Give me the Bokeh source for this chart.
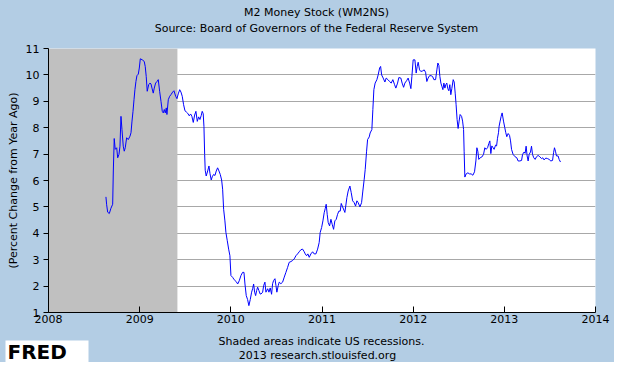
from bokeh.plotting import figure
from bokeh.layouts import column
from bokeh.models import ColumnDataSource, BoxAnnotation, FixedTicker, Label, Range1d
from bokeh.embed import file_html
from bokeh.resources import INLINE

# ---- texts ----
title_text = "M2 Money Stock (WM2NS)"
subtitle_text = "Source: Board of Governors of the Federal Reserve System"
y_label = "(Percent Change from Year Ago)"
footer1 = "Shaded areas indicate US recessions."
footer2 = "2013 research.stlouisfed.org"
logo_text = "FRED"

# ---- axes ----
year_ticks = [2008, 2009, 2010, 2011, 2012, 2013, 2014]
y_ticks = [1, 2, 3, 4, 5, 6, 7, 8, 9, 10, 11]

# ---- recession (Dec 2007 - Jun 2009) ----
recession_start = 2007.917
recession_end = 2009.414

# ---- series: weekly M2, percent change from year ago (decimal years) ----
years = [
    2008.630, 2008.638, 2008.649, 2008.667, 2008.685, 2008.704, 2008.711, 2008.721, 2008.732, 2008.748,
    2008.759, 2008.773, 2008.784, 2008.795, 2008.806, 2008.820, 2008.831, 2008.842, 2008.857, 2008.875,
    2008.894, 2008.905, 2008.916, 2008.927, 2008.938, 2008.948, 2008.959, 2008.970, 2008.985, 2008.996,
    2009.007, 2009.029, 2009.050, 2009.061, 2009.072, 2009.083, 2009.099, 2009.113, 2009.124, 2009.135,
    2009.149, 2009.160, 2009.175, 2009.190, 2009.204, 2009.219, 2009.234, 2009.248, 2009.259, 2009.270,
    2009.281, 2009.292, 2009.299, 2009.314, 2009.329, 2009.343, 2009.362, 2009.376, 2009.395, 2009.409,
    2009.423, 2009.439, 2009.453, 2009.467, 2009.482, 2009.497, 2009.511, 2009.526, 2009.544, 2009.559,
    2009.573, 2009.588, 2009.603, 2009.617, 2009.632, 2009.647, 2009.661, 2009.675, 2009.686, 2009.697,
    2009.705, 2009.713, 2009.719, 2009.730, 2009.746, 2009.760, 2009.771, 2009.785, 2009.796, 2009.811,
    2009.826, 2009.840, 2009.855, 2009.870, 2009.884, 2009.899, 2009.910, 2009.921, 2009.935, 2009.946,
    2009.961, 2009.976, 2009.990, 2010.001, 2010.020, 2010.037, 2010.059, 2010.075, 2010.092, 2010.111,
    2010.129, 2010.144, 2010.155, 2010.169, 2010.184, 2010.198, 2010.213, 2010.228, 2010.239, 2010.250,
    2010.261, 2010.272, 2010.283, 2010.294, 2010.308, 2010.322, 2010.331, 2010.349, 2010.360, 2010.374,
    2010.385, 2010.404, 2010.418, 2010.432, 2010.447, 2010.458, 2010.469, 2010.484, 2010.495, 2010.505,
    2010.520, 2010.531, 2010.549, 2010.568, 2010.586, 2010.604, 2010.623, 2010.640, 2010.659, 2010.678,
    2010.695, 2010.714, 2010.732, 2010.750, 2010.769, 2010.787, 2010.805, 2010.816, 2010.831, 2010.845,
    2010.860, 2010.878, 2010.897, 2010.914, 2010.933, 2010.952, 2010.969, 2010.980, 2010.996, 2011.010,
    2011.024, 2011.035, 2011.046, 2011.057, 2011.068, 2011.083, 2011.098, 2011.112, 2011.127, 2011.141,
    2011.156, 2011.171, 2011.185, 2011.200, 2011.211, 2011.226, 2011.251, 2011.273, 2011.287, 2011.306,
    2011.320, 2011.336, 2011.353, 2011.368, 2011.383, 2011.397, 2011.416, 2011.434, 2011.448, 2011.463,
    2011.474, 2011.489, 2011.500, 2011.518, 2011.528, 2011.547, 2011.558, 2011.569, 2011.583, 2011.602,
    2011.616, 2011.632, 2011.643, 2011.654, 2011.671, 2011.690, 2011.704, 2011.723, 2011.741, 2011.759,
    2011.777, 2011.796, 2011.810, 2011.829, 2011.843, 2011.865, 2011.879, 2011.895, 2011.909, 2011.928,
    2011.945, 2011.961, 2011.975, 2011.986, 2012.000, 2012.019, 2012.033, 2012.044, 2012.055, 2012.070,
    2012.084, 2012.103, 2012.121, 2012.136, 2012.150, 2012.164, 2012.180, 2012.197, 2012.213, 2012.227,
    2012.246, 2012.260, 2012.271, 2012.282, 2012.293, 2012.304, 2012.315, 2012.326, 2012.337, 2012.348,
    2012.358, 2012.369, 2012.380, 2012.391, 2012.402, 2012.413, 2012.424, 2012.439, 2012.450, 2012.461,
    2012.471, 2012.482, 2012.493, 2012.504, 2012.515, 2012.531, 2012.542, 2012.553, 2012.559, 2012.567,
    2012.581, 2012.600, 2012.618, 2012.636, 2012.655, 2012.673, 2012.688, 2012.699, 2012.709, 2012.720,
    2012.735, 2012.753, 2012.772, 2012.786, 2012.800, 2012.816, 2012.830, 2012.841, 2012.852, 2012.863,
    2012.877, 2012.888, 2012.904, 2012.915, 2012.925, 2012.936, 2012.943, 2012.954, 2012.965, 2012.976,
    2012.991, 2013.005, 2013.016, 2013.027, 2013.042, 2013.057, 2013.068, 2013.079, 2013.096, 2013.118,
    2013.137, 2013.151, 2013.170, 2013.189, 2013.200, 2013.217, 2013.228, 2013.239, 2013.250, 2013.261,
    2013.272, 2013.287, 2013.298, 2013.309, 2013.323, 2013.338, 2013.353, 2013.371, 2013.389, 2013.408,
    2013.422, 2013.436, 2013.455, 2013.474, 2013.491, 2013.510, 2013.529, 2013.540, 2013.550, 2013.561,
    2013.572, 2013.590, 2013.601, 2013.616,
]
m2_pct_change = [
    5.38, 5.08, 4.80, 4.75, 4.95, 5.10, 6.36, 7.59, 7.18, 7.24,
    6.86, 6.99, 7.30, 8.43, 7.93, 7.30, 7.11, 7.24, 7.62, 7.55,
    7.68, 7.81, 8.25, 8.62, 9.06, 9.44, 9.75, 9.97, 10.03, 10.26,
    10.61, 10.57, 10.51, 10.32, 9.94, 9.38, 9.63, 9.69, 9.66, 9.50,
    9.31, 9.50, 9.69, 9.75, 9.82, 9.38, 9.00, 8.62, 8.56, 8.69,
    8.56, 8.75, 8.50, 9.06, 9.19, 9.25, 9.35, 9.40, 9.19, 9.10,
    9.28, 9.44, 9.35, 9.19, 8.87, 8.64, 8.60, 8.55, 8.45, 8.52,
    8.43, 8.20, 8.48, 8.62, 8.24, 8.41, 8.31, 8.46, 8.62, 8.53,
    8.05, 6.98, 6.39, 6.17, 6.36, 6.55, 6.27, 6.02, 6.14, 6.23,
    6.19, 6.36, 6.48, 6.36, 6.23, 6.02, 5.67, 4.91, 4.47, 4.03,
    3.72, 3.40, 3.15, 2.40, 2.33, 2.24, 2.17, 2.08, 2.20, 2.40,
    2.52, 2.52, 2.08, 1.64, 1.49, 1.26, 1.49, 1.77, 1.90, 2.08,
    1.77, 1.64, 1.83, 1.96, 1.83, 1.70, 1.70, 1.77, 2.02, 2.15,
    1.77, 1.90, 1.77, 1.93, 1.69, 2.09, 2.21, 2.28, 2.02, 1.77,
    2.02, 2.15, 2.09, 2.15, 2.34, 2.52, 2.71, 2.90, 2.93, 2.97,
    3.03, 3.15, 3.22, 3.30, 3.38, 3.40, 3.30, 3.22, 3.15, 3.22,
    3.09, 3.22, 3.30, 3.22, 3.22, 3.40, 3.65, 4.03, 4.22, 4.47,
    4.78, 4.93, 5.10, 4.72, 4.41, 4.28, 4.53, 4.34, 4.15, 4.47,
    4.53, 4.72, 4.84, 4.84, 5.13, 5.00, 4.79, 5.35, 5.60, 5.79,
    5.55, 5.23, 5.16, 5.03, 5.23, 5.16, 5.00, 5.16, 5.60, 6.05,
    6.42, 7.11, 7.55, 7.65, 7.80, 7.93, 8.69, 9.44, 9.69, 9.82,
    10.00, 10.26, 10.32, 10.00, 9.88, 9.73, 9.88, 9.82, 9.75, 9.69,
    9.82, 9.63, 9.50, 9.69, 9.90, 9.88, 9.69, 9.53, 9.69, 9.78,
    9.88, 9.69, 9.48, 9.94, 10.57, 10.57, 10.07, 10.32, 10.48, 10.19,
    10.13, 10.15, 10.19, 10.10, 9.75, 9.88, 9.97, 9.97, 9.94, 9.82,
    9.82, 10.19, 10.45, 10.36, 9.94, 9.69, 9.57, 9.44, 9.69, 9.50,
    9.63, 9.69, 9.48, 9.40, 9.63, 9.25, 9.48, 9.82, 9.73, 9.31,
    8.87, 8.31, 7.97, 8.25, 8.50, 8.43, 8.25, 7.93, 7.11, 6.13,
    6.25, 6.29, 6.25, 6.25, 6.20, 6.33, 6.74, 7.24, 7.11, 6.80,
    6.86, 6.89, 6.99, 7.24, 7.18, 7.24, 7.40, 7.50, 7.02, 7.31,
    7.24, 7.18, 7.34, 7.31, 7.60, 7.81, 8.06, 8.25, 8.43, 8.56,
    8.25, 8.00, 7.81, 7.66, 7.78, 7.71, 7.50, 7.18, 6.99, 6.90,
    6.86, 6.74, 6.74, 6.76, 6.99, 7.08, 7.03, 7.30, 6.93, 6.74,
    6.99, 7.08, 7.30, 6.99, 6.86, 6.80, 6.90, 6.95, 6.90, 6.83,
    6.86, 6.78, 6.85, 6.83, 6.80, 6.74, 6.76, 7.05, 7.24, 7.11,
    6.93, 6.93, 6.80, 6.70,
]

# ---- styles ----
BG = "#B3CDE4"
SHADE = "#C0C0C0"
GRID = "#A8A8A8"
LINE = "#0000FF"
FONT = "DejaVu Sans"
TXT = "#000000"
W = 614          # whole page: 614 x 362 (fits the 630x378 window with its 8px margin)
HEAD_H = 43
MAIN_H = 288
FOOT_H = 31


def text_panel(height):
    """A blank strip whose frame is the whole canvas (pixel coordinates, y downwards)."""
    f = figure(width=W, height=height, output_backend="svg", toolbar_location=None,
               x_range=Range1d(0, W), y_range=Range1d(height, 0),
               x_axis_location=None, y_axis_location=None,
               min_border_left=0, min_border_right=0, min_border_top=0, min_border_bottom=0,
               background_fill_color=BG, border_fill_color=BG)
    f.frame_align = False
    f.outline_line_color = None
    f.xgrid.visible = False
    f.ygrid.visible = False
    return f


def add_text(f, txt, x, y, size="11px", style="normal", align="center", baseline="middle"):
    f.add_layout(Label(x=x, y=y, text=txt, text_font=FONT, text_font_size=size,
                       text_font_style=style, text_color=TXT, text_align=align,
                       text_baseline=baseline))


# ---- header ----
header = text_panel(HEAD_H)
add_text(header, title_text, 316, 12)
add_text(header, subtitle_text, 316, 28)

# ---- main chart ----
source = ColumnDataSource(data=dict(x=years, y=m2_pct_change))

p = figure(
    width=W, height=MAIN_H,
    output_backend="svg", toolbar_location=None,
    x_range=Range1d(year_ticks[0], year_ticks[-1]),
    y_range=Range1d(y_ticks[0], y_ticks[-1]),
    min_border_left=48, min_border_right=19, min_border_top=5, min_border_bottom=19,
    background_fill_color="white", border_fill_color=BG,
)
p.frame_align = False
p.outline_line_color = None

shade = BoxAnnotation(left=max(recession_start, year_ticks[0]), right=recession_end,
                      fill_color=SHADE, fill_alpha=1.0, line_color=None, level="underlay")
p.add_layout(shade)

p.line("x", "y", source=source, line_color=LINE, line_width=1.0)

p.xgrid.grid_line_color = None
p.ygrid.grid_line_color = GRID
p.ygrid.grid_line_width = 1
p.ygrid.ticker = FixedTicker(ticks=y_ticks)

xa = p.xaxis[0]
xa.ticker = FixedTicker(ticks=year_ticks)
xa.axis_line_color = "black"
xa.major_tick_line_color = "black"
xa.major_tick_in = 6
xa.major_tick_out = 0
xa.minor_tick_line_color = None
xa.major_label_standoff = 2
xa.major_label_text_font = FONT
xa.major_label_text_font_size = "11px"
xa.major_label_text_color = TXT

ya = p.yaxis[0]
ya.ticker = FixedTicker(ticks=y_ticks)
ya.axis_line_color = "black"
ya.major_tick_line_color = "black"
ya.major_tick_in = 0
ya.major_tick_out = 5
ya.minor_tick_line_color = None
ya.major_label_standoff = 4
ya.major_label_text_font = FONT
ya.major_label_text_font_size = "11px"
ya.major_label_text_color = TXT
ya.axis_label = y_label
ya.axis_label_text_font = FONT
ya.axis_label_text_font_size = "11px"
ya.axis_label_text_font_style = "normal"
ya.axis_label_text_color = TXT
ya.axis_label_standoff = 3

# ---- footer ----
footer = text_panel(FOOT_H)
logo_box = BoxAnnotation(left=5, right=88, top=9, bottom=FOOT_H, fill_color="white",
                         fill_alpha=1.0, line_color=None)
footer.add_layout(logo_box)
add_text(footer, footer1, 321, 10)
add_text(footer, footer2, 317, 24)
add_text(footer, logo_text, 7, 20, size="20px", style="bold", align="left", baseline="middle")

layout = column(header, p, footer, spacing=0)
layout.styles = {"background-color": BG}

open("out.html", "w").write(file_html(layout, INLINE))
